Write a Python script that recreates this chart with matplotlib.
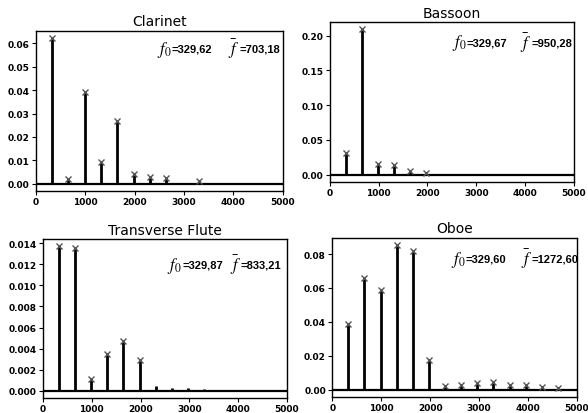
import matplotlib
matplotlib.use("Agg")
import matplotlib.pyplot as plt
from matplotlib.ticker import FormatStrFormatter

# Harmonic amplitude spectra of four instruments playing E4
titles = ["Clarinet", "Bassoon", "Transverse Flute", "Oboe"]
f0_vals = [329.62, 329.67, 329.87, 329.60]
fbar_vals = [703.18, 950.28, 833.21, 1272.60]

clarinet_amp = [0.0622, 0.0019, 0.0390, 0.0093, 0.0267, 0.0043, 0.0031, 0.0024, 0.0003, 0.0012]
clarinet_marked = [True, True, True, True, True, True, True, True, False, True]

bassoon_amp = [0.031, 0.209, 0.016, 0.014, 0.005, 0.003]
bassoon_marked = [True] * 6

flute_amp = [0.0137, 0.0135, 0.0011, 0.0035, 0.0047, 0.0029,
             0.0005, 0.0003, 0.00025, 0.00015, 0.0001, 0.00005, 0.00005]
flute_marked = [True] * 6 + [False] * 7

oboe_amp = [0.0385, 0.0660, 0.0590, 0.0853, 0.0820, 0.0172, 0.0022,
            0.0030, 0.0040, 0.0045, 0.0025, 0.0028, 0.0015, 0.0012]
oboe_marked = [True] * 14

amps = [clarinet_amp, bassoon_amp, flute_amp, oboe_amp]
marked = [clarinet_marked, bassoon_marked, flute_marked, oboe_marked]

yticks = [
    [0.00, 0.01, 0.02, 0.03, 0.04, 0.05, 0.06],
    [0.00, 0.05, 0.10, 0.15, 0.20],
    [0.000, 0.002, 0.004, 0.006, 0.008, 0.010, 0.012, 0.014],
    [0.00, 0.02, 0.04, 0.06, 0.08],
]
yfmt = ["%.2f", "%.2f", "%.3f", "%.2f"]
xticks = [0, 1000, 2000, 3000, 4000, 5000]

# axes rectangles [left, bottom, width, height] in figure fractions
rects = [
    [0.061, 0.536, 0.420, 0.387],
    [0.561, 0.558, 0.415, 0.386],
    [0.073, 0.036, 0.415, 0.384],
    [0.565, 0.039, 0.416, 0.384],
]
# (x of f0 label, x of mean-frequency label, y) in axes fractions
text_pos = [
    (0.49, 0.78, 0.89),
    (0.50, 0.78, 0.875),
    (0.51, 0.765, 0.84),
    (0.486, 0.77, 0.87),
]

plt.rcParams["mathtext.fontset"] = "stix"
fig = plt.figure(figsize=(5.88, 4.14), dpi=100)
fig.patch.set_facecolor("white")

num_font = dict(family=["Liberation Sans", "DejaVu Sans"], weight="bold", size=8)

for i in range(4):
    ax = fig.add_axes(rects[i])
    f0 = f0_vals[i]
    freqs = [f0 * (k + 1) for k in range(len(amps[i]))]
    ax.vlines(freqs, 0, amps[i], color="black", lw=2.0, zorder=3)
    mx = [f for f, m in zip(freqs, marked[i]) if m]
    my = [a for a, m in zip(amps[i], marked[i]) if m]
    ax.plot(mx, my, "x", color="#555555", ms=4.5, mew=1.0, zorder=4)
    ax.axhline(0, color="black", lw=1.6, zorder=2)
    ax.set_xlim(0, 5000)
    ax.set_xticks(xticks)
    ax.set_yticks(yticks[i])
    ax.yaxis.set_major_formatter(FormatStrFormatter(yfmt[i]))
    ax.tick_params(labelsize=6.5, length=3, width=0.8, pad=1.5)
    for lab in ax.get_xticklabels() + ax.get_yticklabels():
        lab.set_fontweight("bold")
    for s in ax.spines.values():
        s.set_linewidth(1.0)
    ax.set_title(titles[i], fontsize=10, pad=4)

    tx0, tx1, ty = text_pos[i]
    ax.text(tx0, ty, r"$\mathit{f}_0$", transform=ax.transAxes,
            fontsize=12, ha="left", va="center")
    ax.text(tx0 + 0.06, ty, ("=%.2f" % f0).replace(".", ","), transform=ax.transAxes,
            ha="left", va="center", **num_font)
    ax.text(tx1, ty, r"$\bar{\mathit{f}}$", transform=ax.transAxes,
            fontsize=12, ha="left", va="center")
    ax.text(tx1 + 0.045, ty, ("=%.2f" % fbar_vals[i]).replace(".", ","), transform=ax.transAxes,
            ha="left", va="center", **num_font)

fig.savefig("out.png", dpi=100, facecolor="white")
